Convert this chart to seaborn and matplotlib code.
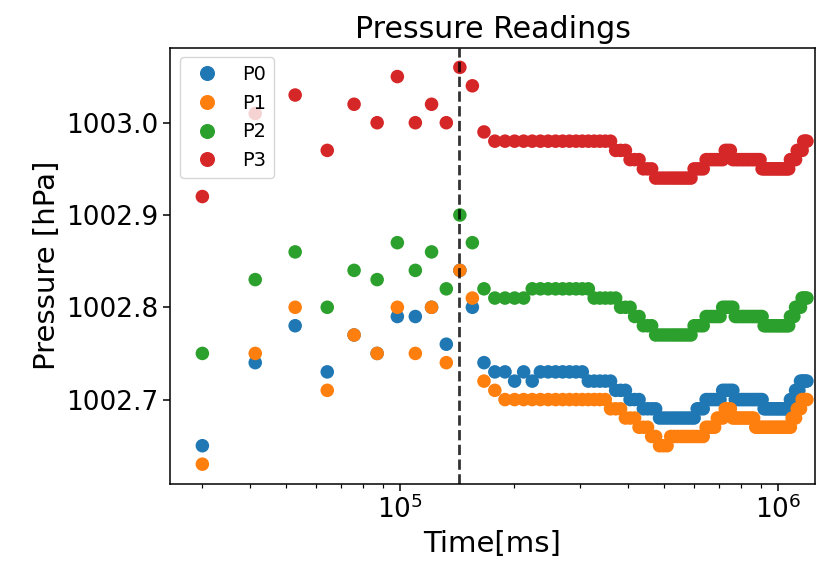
import pandas as pd
import matplotlib
matplotlib.use("Agg")
import matplotlib.pyplot as plt
from matplotlib.lines import Line2D
import seaborn as sns

# sample times (ms)
time_ms = [
    30000, 41400, 52800, 64200, 75600, 87000, 98400, 109800, 121200, 132600,
    144000, 155400, 166800, 178200, 189600, 201000, 212400, 223800, 235200, 246600,
    258000, 269400, 280800, 292200, 303600, 315000, 326400, 337800, 349200, 360600,
    372000, 383400, 394800, 406200, 417600, 429000, 440400, 451800, 463200, 474600,
    486000, 497400, 508800, 520200, 531600, 543000, 554400, 565800, 577200, 588600,
    600000, 611400, 622800, 634200, 645600, 657000, 668400, 679800, 691200, 702600,
    714000, 725400, 736800, 748200, 759600, 771000, 782400, 793800, 805200, 816600,
    828000, 839400, 850800, 862200, 873600, 885000, 896400, 907800, 919200, 930600,
    942000, 953400, 964800, 976200, 987600, 999000, 1010400, 1021800, 1033200, 1044600,
    1056000, 1067400, 1078800, 1090200, 1101600, 1113000, 1124400, 1135800, 1147200, 1158600,
    1170000, 1181400, 1192800,
]

p0 = [
    1002.65, 1002.74, 1002.78, 1002.73, 1002.77, 1002.75, 1002.79, 1002.79, 1002.80, 1002.76,
    1002.84, 1002.80, 1002.74, 1002.73, 1002.73, 1002.72, 1002.73, 1002.72, 1002.73, 1002.73,
    1002.73, 1002.73, 1002.73, 1002.73, 1002.73, 1002.72, 1002.72, 1002.72, 1002.72, 1002.72,
    1002.71, 1002.71, 1002.71, 1002.70, 1002.70, 1002.70, 1002.69, 1002.69, 1002.69, 1002.69,
    1002.68, 1002.68, 1002.68, 1002.68, 1002.68, 1002.68, 1002.68, 1002.68, 1002.68, 1002.68,
    1002.68, 1002.69, 1002.69, 1002.69, 1002.70, 1002.70, 1002.70, 1002.70, 1002.70, 1002.70,
    1002.71, 1002.71, 1002.71, 1002.71, 1002.71, 1002.70, 1002.70, 1002.70, 1002.70, 1002.70,
    1002.70, 1002.70, 1002.70, 1002.70, 1002.70, 1002.70, 1002.70, 1002.70, 1002.69, 1002.69,
    1002.69, 1002.69, 1002.69, 1002.69, 1002.69, 1002.69, 1002.69, 1002.69, 1002.69, 1002.69,
    1002.69, 1002.69, 1002.70, 1002.70, 1002.70, 1002.71, 1002.71, 1002.71, 1002.72, 1002.72,
    1002.72, 1002.72, 1002.72,
]

p1 = [
    1002.63, 1002.75, 1002.80, 1002.71, 1002.77, 1002.75, 1002.80, 1002.75, 1002.80, 1002.74,
    1002.84, 1002.81, 1002.72, 1002.71, 1002.70, 1002.70, 1002.70, 1002.70, 1002.70, 1002.70,
    1002.70, 1002.70, 1002.70, 1002.70, 1002.70, 1002.70, 1002.70, 1002.70, 1002.70, 1002.69,
    1002.69, 1002.69, 1002.68, 1002.68, 1002.68, 1002.67, 1002.67, 1002.67, 1002.66, 1002.66,
    1002.65, 1002.65, 1002.65, 1002.66, 1002.66, 1002.66, 1002.66, 1002.66, 1002.66, 1002.66,
    1002.66, 1002.66, 1002.66, 1002.66, 1002.67, 1002.67, 1002.67, 1002.67, 1002.68, 1002.68,
    1002.68, 1002.69, 1002.69, 1002.69, 1002.68, 1002.68, 1002.68, 1002.68, 1002.68, 1002.68,
    1002.68, 1002.68, 1002.68, 1002.68, 1002.67, 1002.67, 1002.67, 1002.67, 1002.67, 1002.67,
    1002.67, 1002.67, 1002.67, 1002.67, 1002.67, 1002.67, 1002.67, 1002.67, 1002.67, 1002.67,
    1002.67, 1002.67, 1002.67, 1002.68, 1002.68, 1002.68, 1002.69, 1002.69, 1002.69, 1002.70,
    1002.70, 1002.70, 1002.70,
]

p2 = [
    1002.75, 1002.83, 1002.86, 1002.80, 1002.84, 1002.83, 1002.87, 1002.84, 1002.86, 1002.82,
    1002.90, 1002.87, 1002.82, 1002.81, 1002.81, 1002.81, 1002.81, 1002.82, 1002.82, 1002.82,
    1002.82, 1002.82, 1002.82, 1002.82, 1002.82, 1002.82, 1002.81, 1002.81, 1002.81, 1002.81,
    1002.81, 1002.80, 1002.80, 1002.80, 1002.79, 1002.79, 1002.78, 1002.78, 1002.78, 1002.77,
    1002.77, 1002.77, 1002.77, 1002.77, 1002.77, 1002.77, 1002.77, 1002.77, 1002.77, 1002.77,
    1002.78, 1002.78, 1002.78, 1002.78, 1002.79, 1002.79, 1002.79, 1002.79, 1002.79, 1002.79,
    1002.80, 1002.80, 1002.80, 1002.80, 1002.80, 1002.79, 1002.79, 1002.79, 1002.79, 1002.79,
    1002.79, 1002.79, 1002.79, 1002.79, 1002.79, 1002.79, 1002.79, 1002.79, 1002.78, 1002.78,
    1002.78, 1002.78, 1002.78, 1002.78, 1002.78, 1002.78, 1002.78, 1002.78, 1002.78, 1002.78,
    1002.78, 1002.78, 1002.79, 1002.79, 1002.79, 1002.80, 1002.80, 1002.80, 1002.80, 1002.81,
    1002.81, 1002.81, 1002.81,
]

p3 = [
    1002.92, 1003.01, 1003.03, 1002.97, 1003.02, 1003.00, 1003.05, 1003.00, 1003.02, 1003.00,
    1003.06, 1003.04, 1002.99, 1002.98, 1002.98, 1002.98, 1002.98, 1002.98, 1002.98, 1002.98,
    1002.98, 1002.98, 1002.98, 1002.98, 1002.98, 1002.98, 1002.98, 1002.98, 1002.98, 1002.98,
    1002.97, 1002.97, 1002.97, 1002.96, 1002.96, 1002.96, 1002.95, 1002.95, 1002.95, 1002.94,
    1002.94, 1002.94, 1002.94, 1002.94, 1002.94, 1002.94, 1002.94, 1002.94, 1002.94, 1002.94,
    1002.95, 1002.95, 1002.95, 1002.95, 1002.96, 1002.96, 1002.96, 1002.96, 1002.96, 1002.96,
    1002.96, 1002.97, 1002.97, 1002.97, 1002.96, 1002.96, 1002.96, 1002.96, 1002.96, 1002.96,
    1002.96, 1002.96, 1002.96, 1002.96, 1002.96, 1002.96, 1002.96, 1002.95, 1002.95, 1002.95,
    1002.95, 1002.95, 1002.95, 1002.95, 1002.95, 1002.95, 1002.95, 1002.95, 1002.95, 1002.95,
    1002.95, 1002.95, 1002.96, 1002.96, 1002.96, 1002.96, 1002.97, 1002.97, 1002.97, 1002.97,
    1002.98, 1002.98, 1002.98,
]

sensors = ["P0", "P1", "P2", "P3"]
colors = ["#1f77b4", "#ff7f0e", "#2ca02c", "#d62728"]
t_event = 143000

df = pd.DataFrame({
    "Time": time_ms * 4,
    "Pressure": p0 + p1 + p2 + p3,
    "Sensor": [s for s in sensors for _ in time_ms],
})

fig = plt.figure(figsize=(8.28, 5.73), dpi=100)
ax = fig.add_axes([0.2053, 0.1553, 0.779, 0.7618])

sns.scatterplot(data=df, x="Time", y="Pressure", hue="Sensor", palette=colors,
                s=95, linewidth=0, alpha=1, legend=False, ax=ax)
ax.axvline(t_event, color="k", linestyle="--", linewidth=2.0, alpha=0.8)

ax.set_xscale("log")
ax.set_xlim(24630, 1.253e6)
ax.ticklabel_format(axis="y", useOffset=False)

ax.set_title("Pressure Readings", fontsize=21.6, pad=7)
ax.set_xlabel("Time[ms]", fontsize=21)
ax.set_ylabel("Pressure [hPa]", fontsize=21)
ax.tick_params(axis="both", which="major", labelsize=19, length=4.9, width=1.1)
ax.tick_params(axis="both", which="minor", length=2.8, width=0.85)
for sp in ax.spines.values():
    sp.set_linewidth(1.1)

handles = [Line2D([], [], marker="o", linestyle="", color=c, markersize=9.8, label=s)
           for s, c in zip(sensors, colors)]
ax.legend(handles=handles, loc="upper left", fontsize=14)

fig.savefig("out.png", dpi=100)
